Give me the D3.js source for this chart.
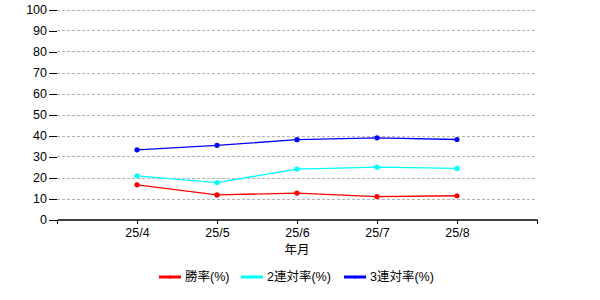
<!DOCTYPE html>
<html><head><meta charset="utf-8">
<script src="https://cdn.jsdelivr.net/npm/d3@7"></script>
<style>body{margin:0;background:#fff}text{font-family:Arial,"Liberation Sans","Noto Sans CJK JP",sans-serif}</style>
</head><body>
<svg id="c" width="600" height="300"></svg>
<script>
const categories = ["25/4","25/5","25/6","25/7","25/8"];
const winRate = [16.5, 11.7, 12.6, 10.9, 11.3];
const top2Rate = [20.8, 17.6, 24.0, 24.9, 24.3];
const top3Rate = [33.2, 35.3, 38.0, 38.9, 38.1];
const yTicks = [0,10,20,30,40,50,60,70,80,90,100];
const seriesNames = ["勝率(%)","2連対率(%)","3連対率(%)"];
const seriesColors = ["#ff0000","#00ffff","#0000ff"];
const xTitle = "年月";

const series = [winRate, top2Rate, top3Rate];
const svg = d3.select("#c");
const x = d3.scaleLinear().domain([0, categories.length + 1]).range([57, 537]);
const y = d3.scaleLinear().domain([0, 100]).range([219.5, 9.5]);

// grid
svg.append("g").selectAll("line").data(yTicks.filter(d => d > 0)).join("line")
  .attr("x1", 57).attr("x2", 536).attr("y1", d => Math.round(y(d)) + 0.5).attr("y2", d => Math.round(y(d)) + 0.5)
  .attr("stroke", "#b4b4b4").attr("stroke-dasharray", "3,2").attr("shape-rendering", "crispEdges");

// y axis (ticks + labels only)
const yAxis = svg.append("g").attr("transform", "translate(57,0)")
  .call(d3.axisLeft(y).tickValues(yTicks).tickSize(8).tickPadding(2));
yAxis.select(".domain").remove();
yAxis.selectAll("line").attr("stroke", "#000").attr("shape-rendering", "crispEdges");
yAxis.selectAll("text").attr("font-size", 12.5).attr("fill", "#000").attr("font-family", "Arial,'Liberation Sans',sans-serif");

// x axis
const xAxis = svg.append("g").attr("transform", "translate(0,219.5)")
  .call(d3.axisBottom(x).tickValues(d3.range(0, categories.length + 2)).tickSize(4).tickSizeOuter(0)
    .tickFormat(i => (i >= 1 && i <= categories.length) ? categories[i - 1] : ""));
xAxis.select(".domain").attr("stroke", "#000").attr("stroke-width", 1.5);
xAxis.selectAll("line").attr("stroke", "#000").attr("shape-rendering", "crispEdges");
xAxis.selectAll("text").attr("font-size", 12.5).attr("fill", "#000").attr("dy", "0.85em");

svg.append("text").attr("x", x(3)).attr("y", 253.5).attr("text-anchor", "middle")
  .attr("font-size", 12.5).text(xTitle);

// series
const line = d3.line().x((d, i) => x(i + 1)).y(d => y(d));
series.forEach((s, k) => {
  svg.append("path").datum(s).attr("d", line).attr("fill", "none")
    .attr("stroke", seriesColors[k]).attr("stroke-width", 1.3);
  svg.append("g").selectAll("circle").data(s).join("circle")
    .attr("cx", (d, i) => x(i + 1)).attr("cy", d => y(d)).attr("r", 2.6).attr("fill", seriesColors[k]);
});

// legend
const legX = [159, 241, 344];
const leg = svg.append("g");
seriesNames.forEach((n, k) => {
  leg.append("line").attr("x1", legX[k]).attr("x2", legX[k] + 22).attr("y1", 277).attr("y2", 277)
    .attr("stroke", seriesColors[k]).attr("stroke-width", 3);
  leg.append("circle").attr("cx", legX[k] + 11).attr("cy", 277).attr("r", 1.5).attr("fill", seriesColors[k]);
  leg.append("text").attr("x", legX[k] + 26).attr("y", 277).attr("dy", "0.35em").attr("font-size", 12.5).text(n);
});
</script>
</body></html>
